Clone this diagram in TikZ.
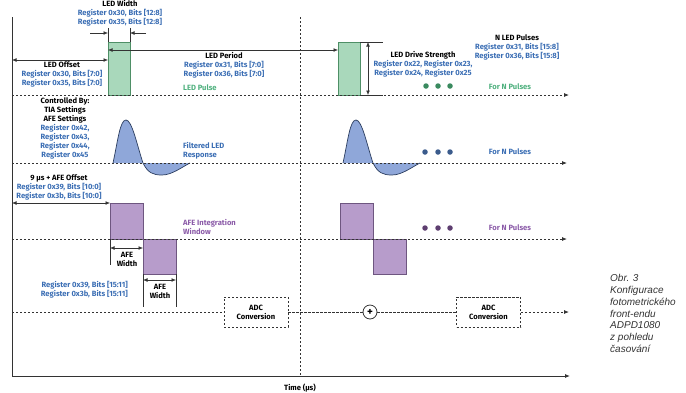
\documentclass[tikz,border=0pt]{standalone}
\usepackage{fontspec}
\setmainfont{Fira Sans}
\newfontfamily\capfont{Liberation Sans}
\usetikzlibrary{arrows.meta}
\definecolor{regblue}{HTML}{3B6EB4}
\definecolor{ledfill}{HTML}{A9D8BB}
\definecolor{ledline}{HTML}{4E8F66}
\definecolor{greentext}{HTML}{4FB07E}
\definecolor{greendot}{HTML}{3A8A5F}
\definecolor{curvefill}{HTML}{8FA7D9}
\definecolor{curveline}{HTML}{2C3E60}
\definecolor{bluedot}{HTML}{3B5B8C}
\definecolor{afefill}{HTML}{B79CCB}
\definecolor{afeline}{HTML}{6E5680}
\definecolor{afetext}{HTML}{8B5BA8}
\definecolor{purpledot}{HTML}{5E3E70}
\definecolor{axisgray}{HTML}{333333}
\definecolor{captext}{HTML}{333333}
\tikzset{
  lbl/.style={font=\bfseries\fontsize{7.6}{9}\selectfont, align=center, inner sep=0pt, text=black},
  reg/.style={lbl, text=regblue},
  dashline/.style={line width=0.8pt, draw=axisgray, dash pattern=on 2.4pt off 1.6pt},
  axisline/.style={line width=0.9pt, draw=axisgray},
  tipA/.style={-{Latex[length=5pt,width=4pt]}},
  guide/.style={line width=0.6pt, draw=axisgray},
  dimarr/.style={line width=0.6pt, draw=axisgray, {Latex[length=4.5pt,width=3.8pt]}-{Latex[length=4.5pt,width=3.8pt]}},
  onearr/.style={line width=0.6pt, draw=axisgray, -{Latex[length=4.5pt,width=3.8pt]}},
  ledrect/.style={fill=ledfill, draw=ledline, line width=0.6pt},
  aferect/.style={fill=afefill, draw=afeline, line width=0.6pt},
  adcbox/.style={draw=axisgray, line width=0.8pt, dash pattern=on 2.4pt off 1.6pt, minimum width=64pt, minimum height=30pt, lbl},
  dotmark/.style={circle, inner sep=0pt, minimum size=5.5pt},
}
\begin{document}
\begin{tikzpicture}[x=1pt,y=-1pt]
\useasboundingbox (0,0) rectangle (686,392);
% axes
\coordinate (axtop) at (12,17);
\coordinate (axorigin) at (12,376);
\coordinate (axend) at (570,376);
\draw[axisline] (axtop) -- (axorigin);
\draw[axisline, tipA] (axorigin) -- (axend);
\coordinate (midtop) at (300,17);
\coordinate (midbot) at (300,375);
\draw[dashline] (midtop) -- (midbot);
\node[lbl] (timelbl) at (300,388) {Time (µs)};

% ---------- Row 1: LED ----------
\draw[ledrect] (108,42) rectangle (130,95);
\draw[ledrect] (338,42) rectangle (360,95);
\coordinate (r1s) at (12,95);
\coordinate (r1e) at (569,95);
\draw[dashline, tipA] (r1s) -- (r1e);
% LED width
\coordinate (lw1) at (108,28); \coordinate (lw1b) at (108,42);
\coordinate (lw2) at (130,28); \coordinate (lw2b) at (130,42);
\draw[guide] (lw1) -- (lw1b);
\draw[guide] (lw2) -- (lw2b);
\coordinate (lwa) at (90,33); \coordinate (lwat) at (108,33);
\coordinate (lwb) at (146,33); \coordinate (lwbt) at (130,33);
\draw[onearr] (lwa) -- (lwat);
\draw[onearr] (lwb) -- (lwbt);
\node[lbl] (ledwidth) at (120,13.6) {LED Width\\\textcolor{regblue}{Register 0x30, Bits [12:8]}\\\textcolor{regblue}{Register 0x35, Bits [12:8]}};
% LED offset
\coordinate (lo1) at (12,60); \coordinate (lo2) at (108,60);
\draw[dimarr] (lo1) -- (lo2);
\node[lbl] (ledoffset) at (62,74.5) {LED Offset\\\textcolor{regblue}{Register 0x30, Bits [7:0]}\\\textcolor{regblue}{Register 0x35, Bits [7:0]}};
% LED period
\coordinate (lp1) at (108,50); \coordinate (lp2) at (338,50);
\draw[dimarr] (lp1) -- (lp2);
\node[lbl] (ledperiod) at (224,65.5) {LED Period\\\textcolor{regblue}{Register 0x31, Bits [7:0]}\\\textcolor{regblue}{Register 0x36, Bits [7:0]}};
\node[lbl, text=greentext, anchor=west] (ledpulse) at (183,88) {LED Pulse};
% drive strength
\coordinate (ds1) at (368,42); \coordinate (ds2) at (368,95);
\coordinate (dsg1) at (360,42); \coordinate (dsg2) at (383,42);
\coordinate (dsg3) at (360,95); \coordinate (dsg4) at (383,95);
\draw[guide] (dsg1) -- (dsg2);
\draw[guide] (dsg3) -- (dsg4);
\draw[dimarr] (ds1) -- (ds2);
\node[lbl] (drive) at (423,64) {LED Drive Strength\\\textcolor{regblue}{Register 0x22, Register 0x23,}\\\textcolor{regblue}{Register 0x24, Register 0x25}};
\node[lbl] (nled) at (517,47.5) {N LED Pulses\\\textcolor{regblue}{Register 0x31, Bits [15:8]}\\\textcolor{regblue}{Register 0x36, Bits [15:8]}};
\node[dotmark, fill=greendot] (gd1) at (426,86) {};
\node[dotmark, fill=greendot] (gd2) at (438,86) {};
\node[dotmark, fill=greendot] (gd3) at (450,86) {};
\node[lbl, text=greentext] (gfor) at (510,87) {For N Pulses};

% ---------- Row 2: filtered response ----------
\foreach \dx in {0,230}{
  \begin{scope}[xshift=\dx pt]
    \fill[curvefill] (113,163) .. controls (118,140) and (120,120) .. (126,120)
      .. controls (132,120) and (137,145) .. (143,163)
      .. controls (148,173) and (153,175) .. (162,175)
      .. controls (172,175) and (182,167) .. (190,163) -- cycle;
    \draw[curveline, line width=0.7pt] (113,163) .. controls (118,140) and (120,120) .. (126,120)
      .. controls (132,120) and (137,145) .. (143,163)
      .. controls (148,173) and (153,175) .. (162,175)
      .. controls (172,175) and (182,167) .. (190,163);
  \end{scope}
}
\coordinate (r2s) at (12,163);
\coordinate (r2e) at (567,163);
\draw[dashline, tipA] (r2s) -- (r2e);
\node[lbl] (ctrl) at (65,128.5) {Controlled By:\\TIA Settings\\AFE Settings\\\textcolor{regblue}{Register 0x42,}\\\textcolor{regblue}{Register 0x43,}\\\textcolor{regblue}{Register 0x44,}\\\textcolor{regblue}{Register 0x45}};
\node[lbl, text=regblue, anchor=west, align=left] (filt) at (183,150.5) {Filtered LED\\Response};
\node[dotmark, fill=bluedot] (bd1) at (425,152) {};
\node[dotmark, fill=bluedot] (bd2) at (438,152) {};
\node[dotmark, fill=bluedot] (bd3) at (450,152) {};
\node[lbl, text=regblue] (bfor) at (510,152) {For N Pulses};

% ---------- Row 3: AFE integration ----------
\draw[aferect] (110,203) rectangle (143,239);
\draw[aferect] (143,239) rectangle (176,274);
\draw[aferect] (340,203) rectangle (373,239);
\draw[aferect] (373,239) rectangle (406,274);
\coordinate (r3s) at (12,239);
\coordinate (r3e) at (567,239);
\draw[dashline, tipA] (r3s) -- (r3e);
\coordinate (ao1) at (12,203); \coordinate (ao2) at (110,203);
\draw[dimarr] (ao1) -- (ao2);
\node[lbl] (afeoff) at (59,187.5) {9 µs + AFE Offset\\\textcolor{regblue}{Register 0x39, Bits [10:0]}\\\textcolor{regblue}{Register 0x3b, Bits [10:0]}};
\node[lbl, text=afetext, anchor=west, align=left] (afeint) at (183,226.5) {AFE Integration\\Window};
\node[dotmark, fill=purpledot] (pd1) at (425,228) {};
\node[dotmark, fill=purpledot] (pd2) at (438,228) {};
\node[dotmark, fill=purpledot] (pd3) at (450,228) {};
\node[lbl, text=afetext] (pfor) at (510,228) {For N Pulses};
% AFE width 1
\coordinate (aw1g1) at (110,239); \coordinate (aw1g2) at (110,265);
\draw[guide] (aw1g1) -- (aw1g2);
\coordinate (aw1a) at (110,248); \coordinate (aw1b) at (143,248);
\draw[dimarr] (aw1a) -- (aw1b);
\node[lbl] (afew1) at (127,259.5) {AFE\\Width};
% AFE width 2
\coordinate (aw2g1) at (143,274); \coordinate (aw2g2) at (143,307);
\coordinate (aw2g3) at (176,274); \coordinate (aw2g4) at (176,307);
\draw[guide] (aw2g1) -- (aw2g2);
\draw[guide] (aw2g3) -- (aw2g4);
\coordinate (aw2a) at (143,280); \coordinate (aw2b) at (176,280);
\draw[dimarr] (aw2a) -- (aw2b);
\node[lbl] (afew2) at (160,291) {AFE\\Width};
\node[reg, anchor=east, align=right] (afereg) at (128,289.5) {Register 0x39, Bits [15:11]\\Register 0x3b, Bits [15:11]};

% ---------- Row 4: ADC ----------
\node[adcbox] (adc1) at (256,312) {ADC\\Conversion};
\node[circle, draw=axisgray, line width=0.8pt, minimum size=14pt, inner sep=0pt, font=\bfseries\fontsize{11}{11}\selectfont] (sum) at (370,312) {+};
\node[adcbox] (adc2) at (488.5,312) {ADC\\Conversion};
\coordinate (r4s) at (12,312);
\coordinate (r4e) at (569,312);
\draw[dashline] (r4s) -- (adc1.west);
\draw[dashline] (adc1.east) -- (sum.west);
\draw[dashline] (sum.east) -- (adc2.west);
\draw[dashline, tipA] (adc2.east) -- (r4e);

% ---------- Caption ----------
\node[anchor=north west, align=left, inner sep=0pt, text=captext, font=\capfont\itshape\fontsize{10}{11.7}\selectfont] (caption) at (610,274.5) {Obr. 3\\Konfigurace\\fotometrického\\front-endu\\ADPD1080\\z pohledu\\časování};
\end{tikzpicture}
\end{document}
